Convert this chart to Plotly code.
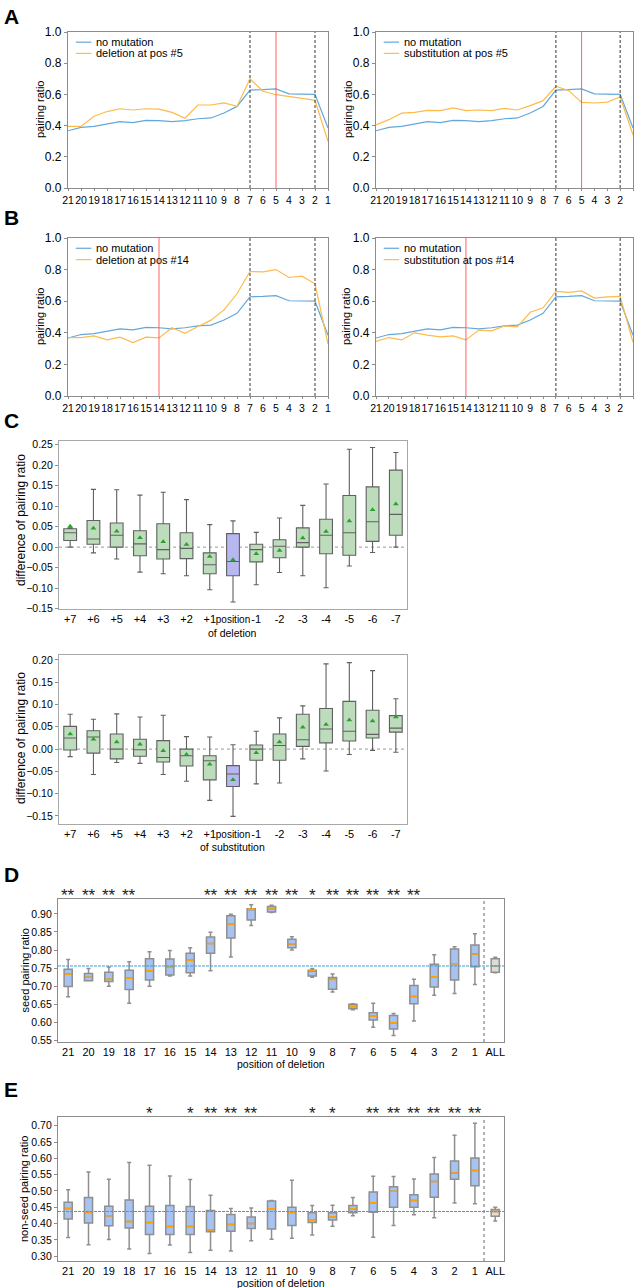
import plotly.graph_objects as go

W, H = 636, 1288
FONT = "Arial, Liberation Sans, sans-serif"

# ---------------- data ----------------
positions = ["21", "20", "19", "18", "17", "16", "15", "14", "13", "12", "11",
             "10", "9", "8", "7", "6", "5", "4", "3", "2", "1"]
seed_bounds = [7, 2]
no_mutation = [0.367, 0.389, 0.395, 0.410, 0.425, 0.419, 0.434, 0.432, 0.425, 0.432, 0.444,
               0.449, 0.481, 0.523, 0.628, 0.630, 0.635, 0.603, 0.600, 0.600, 0.385]
deletion_pos5 = [0.395, 0.395, 0.460, 0.490, 0.508, 0.500, 0.508, 0.506, 0.485, 0.447, 0.532,
                 0.532, 0.545, 0.523, 0.700, 0.620, 0.598, 0.588, 0.575, 0.562, 0.300]
substitution_pos5 = [0.405, 0.438, 0.480, 0.485, 0.498, 0.496, 0.513, 0.496, 0.500, 0.496, 0.510,
                     0.500, 0.528, 0.560, 0.652, 0.624, 0.549, 0.545, 0.551, 0.583, 0.340]
deletion_pos14 = [0.370, 0.370, 0.380, 0.355, 0.372, 0.338, 0.372, 0.368, 0.432, 0.397, 0.440,
                  0.480, 0.545, 0.647, 0.788, 0.786, 0.800, 0.750, 0.758, 0.710, 0.330]
substitution_pos14 = [0.346, 0.370, 0.355, 0.400, 0.385, 0.374, 0.380, 0.355, 0.417, 0.412, 0.444,
                      0.438, 0.530, 0.558, 0.662, 0.656, 0.665, 0.620, 0.628, 0.630, 0.340]

c_categories = ["+7", "+6", "+5", "+4", "+3", "+2", "+1", "position",
                "-1", "-2", "-3", "-4", "-5", "-6", "-7"]
cdel_low = [0.0, -0.014, -0.029, -0.061, -0.065, -0.070, -0.104, -0.134, -0.092, -0.062, -0.070, -0.099, -0.046, -0.013, 0.0]
cdel_q1 = [0.016, 0.007, 0.0, -0.021, -0.029, -0.028, -0.065, -0.070, -0.036, -0.026, 0.0, -0.016, -0.020, 0.014, 0.029]
cdel_med = [0.035, 0.020, 0.029, 0.008, -0.006, -0.003, -0.043, -0.035, -0.006, 0.002, 0.011, 0.029, 0.035, 0.062, 0.080]
cdel_q3 = [0.045, 0.065, 0.059, 0.040, 0.057, 0.035, -0.014, 0.033, 0.007, 0.018, 0.047, 0.068, 0.126, 0.147, 0.188]
cdel_high = [0.047, 0.141, 0.140, 0.127, 0.134, 0.116, 0.055, 0.064, 0.036, 0.071, 0.102, 0.154, 0.239, 0.243, 0.231]
cdel_mean = [0.051, 0.046, 0.039, 0.023, 0.013, 0.0065, -0.023, -0.031, -0.016, -0.008, 0.022, 0.038, 0.064, 0.091, 0.105]

csub_low = [-0.017, -0.057, -0.030, -0.032, -0.057, -0.072, -0.115, -0.151, -0.078, -0.076, -0.022, -0.049, -0.012, -0.003, -0.007]
csub_q1 = [-0.002, -0.009, -0.022, -0.016, -0.029, -0.038, -0.069, -0.084, -0.025, -0.025, 0.006, 0.014, 0.018, 0.025, 0.038]
csub_med = [0.025, 0.027, 0.0, -0.0015, -0.019, -0.015, -0.026, -0.056, 0.0, 0.008, 0.021, 0.045, 0.040, 0.033, 0.047]
csub_q3 = [0.051, 0.041, 0.034, 0.022, 0.019, 0.0, -0.015, -0.037, 0.009, 0.034, 0.078, 0.091, 0.107, 0.087, 0.075]
csub_high = [0.078, 0.067, 0.079, 0.072, 0.076, 0.028, 0.027, 0.0097, 0.040, 0.070, 0.097, 0.191, 0.194, 0.176, 0.113]
csub_mean = [0.034, 0.022, 0.016, 0.011, -0.004, -0.012, -0.034, -0.069, -0.008, 0.016, 0.049, 0.055, 0.065, 0.063, 0.072]

de_categories = positions + ["ALL"]
d_low = [0.671, 0.715, 0.700, 0.653, 0.700, 0.728, 0.728, 0.743, 0.781, 0.868, 0.904, 0.800, 0.725, 0.684, 0.635, 0.587, 0.564, 0.604, 0.675, 0.680, 0.705, 0.737]
d_q1 = [0.699, 0.715, 0.713, 0.691, 0.717, 0.731, 0.737, 0.791, 0.833, 0.883, 0.905, 0.806, 0.728, 0.692, 0.638, 0.607, 0.582, 0.652, 0.698, 0.717, 0.754, 0.739]
d_med = [0.733, 0.725, 0.719, 0.722, 0.743, 0.754, 0.772, 0.818, 0.871, 0.913, 0.913, 0.817, 0.743, 0.719, 0.644, 0.617, 0.599, 0.672, 0.726, 0.762, 0.789, 0.756]
d_q3 = [0.747, 0.735, 0.739, 0.744, 0.776, 0.775, 0.791, 0.836, 0.895, 0.914, 0.920, 0.830, 0.744, 0.724, 0.650, 0.627, 0.619, 0.702, 0.761, 0.803, 0.814, 0.776]
d_high = [0.774, 0.749, 0.753, 0.768, 0.795, 0.799, 0.806, 0.849, 0.899, 0.925, 0.924, 0.837, 0.749, 0.734, 0.652, 0.653, 0.625, 0.719, 0.787, 0.809, 0.845, 0.780]
d_stars = ["**", "**", "**", "**", "", "", "", "**", "**", "**", "**", "**", "*", "**", "**", "**", "**", "**", "", "", "", ""]

e_low = [0.357, 0.335, 0.351, 0.322, 0.308, 0.334, 0.311, 0.318, 0.316, 0.347, 0.352, 0.355, 0.365, 0.392, 0.424, 0.358, 0.394, 0.427, 0.418, 0.463, 0.461, 0.408]
e_q1 = [0.414, 0.402, 0.393, 0.386, 0.366, 0.366, 0.366, 0.375, 0.376, 0.385, 0.383, 0.394, 0.403, 0.411, 0.433, 0.435, 0.450, 0.450, 0.481, 0.536, 0.516, 0.422]
e_med = [0.446, 0.434, 0.424, 0.406, 0.403, 0.391, 0.391, 0.380, 0.397, 0.400, 0.445, 0.434, 0.410, 0.421, 0.445, 0.464, 0.499, 0.471, 0.529, 0.555, 0.563, 0.437]
e_q3 = [0.465, 0.480, 0.453, 0.472, 0.453, 0.455, 0.452, 0.440, 0.428, 0.420, 0.469, 0.450, 0.433, 0.433, 0.455, 0.497, 0.513, 0.488, 0.552, 0.592, 0.601, 0.443]
e_high = [0.504, 0.558, 0.536, 0.587, 0.579, 0.546, 0.535, 0.487, 0.446, 0.448, 0.471, 0.533, 0.455, 0.456, 0.480, 0.545, 0.544, 0.537, 0.603, 0.671, 0.708, 0.450]
e_stars = ["", "", "", "", "*", "", "*", "**", "**", "**", "", "", "*", "*", "", "**", "**", "**", "**", "**", "**", ""]

# ---------------- styles ----------------
BLUE = "#62a8dc"
ORANGE = "#fdbb4a"
GREEN_FILL = "#bcdcbc"
LAV_FILL = "#b7b7f2"
BOX_BLUE = "#a7c3f3"
ALL_FILL = "#dcdcdc"
MED_ORANGE = "#ffa100"
FRAME = "#8c8c8c"
REF_BLUE = "#3f9bd6"


def fx(p):
    return p / W


def fy(p):
    return 1 - p / H


fig = go.Figure()
layout = dict(width=W, height=H, margin=dict(l=0, r=0, t=0, b=0), autosize=False,
              template="none", paper_bgcolor="white", plot_bgcolor="white",
              showlegend=False, boxmode="overlay",
              font=dict(family=FONT, size=12, color="black"))

shapes = []
annotations = []


def axis_base(**kw):
    d = dict(showgrid=False, zeroline=False, showline=True, mirror=True, linecolor=FRAME,
             linewidth=1.3, ticks="outside", ticklen=3, tickcolor=FRAME, automargin=False,
             tickfont=dict(family=FONT, size=12, color="black"))
    d.update(kw)
    return d


def text_at(txt, x, y, size, angle=0):
    annotations.append(dict(text=txt, xref="paper", yref="paper", x=fx(x), y=fy(y),
                            xanchor="center", yanchor="middle", showarrow=False, textangle=angle,
                            font=dict(family=FONT, size=size, color="black")))


# ---------------- panels A & B ----------------
line_panels = [
    (1, (68, 328), (32, 188), deletion_pos5, "deletion at pos #5", 5, 40),
    (2, (376, 633), (32, 188), substitution_pos5, "substitution at pos #5", 5, 348),
    (3, (68, 328), (238, 396), deletion_pos14, "deletion at pos #14", 14, 40),
    (4, (376, 633), (238, 396), substitution_pos14, "substitution at pos #14", 14, 346),
]
xs = list(range(len(positions)))
for n, (x0, x1), (y0, y1), mut, label, mpos, tx in line_panels:
    xa = "x" if n == 1 else f"x{n}"
    ya = "y" if n == 1 else f"y{n}"
    xk = "xaxis" if n == 1 else f"xaxis{n}"
    yk = "yaxis" if n == 1 else f"yaxis{n}"
    layout[xk] = axis_base(domain=[fx(x0), fx(x1)], anchor=ya, range=[0, len(positions) - 1],
                           tickmode="array", tickvals=xs, ticktext=positions, tickangle=0,
                           ticklen=2, tickfont=dict(family=FONT, size=10.5, color="black"))
    layout[yk] = axis_base(domain=[fy(y1), fy(y0)], anchor=xa, range=[0, 1.0], dtick=0.2,
                           tickformat=".1f")
    text_at("pairing ratio", tx, (y0 + y1) / 2, 11, angle=-90)
    fig.add_trace(go.Scatter(x=xs, y=no_mutation, mode="lines", name="no mutation",
                             line=dict(color=BLUE, width=1.2), xaxis=xa, yaxis=ya))
    fig.add_trace(go.Scatter(x=xs, y=mut, mode="lines", name=label,
                             line=dict(color=ORANGE, width=1.2), xaxis=xa, yaxis=ya))
    for sb in seed_bounds:
        shapes.append(dict(type="line", xref=xa, yref=f"{ya} domain",
                           x0=positions.index(str(sb)), x1=positions.index(str(sb)), y0=0, y1=1,
                           line=dict(color="#222222", width=0.9, dash="3px,2px")))
    shapes.append(dict(type="line", xref=xa, yref=f"{ya} domain",
                       x0=positions.index(str(mpos)), x1=positions.index(str(mpos)), y0=0, y1=1,
                       line=dict(color="#ff5050", width=0.9)))
    # legend
    for k, (txt, col) in enumerate([("no mutation", BLUE), (label, ORANGE)]):
        yy = 0.935 - k * 0.072
        shapes.append(dict(type="line", xref=f"{xa} domain", yref=f"{ya} domain",
                           x0=0.03, x1=0.09, y0=yy, y1=yy, line=dict(color=col, width=1.2)))
        annotations.append(dict(text=txt, xref=f"{xa} domain", yref=f"{ya} domain",
                                x=0.1, y=yy, xanchor="left", yanchor="middle", showarrow=False,
                                font=dict(family=FONT, size=11, color="black")))

# ---------------- panel C ----------------
c_x = list(range(len(c_categories)))
pos_i = c_categories.index("position")
c_ticktext = [c if c != "position" else "<span style='font-size:10px'>position</span>"
              for c in c_categories]
c_panels = [
    (5, (59, 407), (441, 609), [-0.151, 0.259], "of deletion", 633, 520,
     cdel_low, cdel_q1, cdel_med, cdel_q3, cdel_high, cdel_mean),
    (6, (59, 407), (655, 824), [-0.168, 0.211], "of substitution", 847, 738,
     csub_low, csub_q1, csub_med, csub_q3, csub_high, csub_mean),
]
for n, (x0, x1), (y0, y1), yr, xtitle, xty, yty, lo, q1, md, q3, hi, mn in c_panels:
    xa, ya = f"x{n}", f"y{n}"
    layout[f"xaxis{n}"] = axis_base(domain=[fx(x0), fx(x1)], anchor=ya, range=[-0.48, 14.48],
                                    tickmode="array", tickvals=c_x, ticktext=c_ticktext,
                                    tickangle=0, linecolor="#a8a8a8", linewidth=1.2, ticks="",
                                    tickfont=dict(family=FONT, size=11, color="black"))
    layout[f"yaxis{n}"] = axis_base(domain=[fy(y1), fy(y0)], anchor=xa, range=yr, dtick=0.05,
                                    tickformat=".2f", linecolor="#a8a8a8", linewidth=1.2,
                                    tickfont=dict(family=FONT, size=10.5, color="black"))
    text_at(xtitle, (x0 + x1) / 2, xty, 10.5)
    text_at("difference of pairing ratio", 21, yty, 12, angle=-90)
    shapes.append(dict(type="line", xref=f"{xa} domain", yref=ya, x0=0, x1=1, y0=0, y1=0,
                       line=dict(color="#999999", width=1, dash="dot"), layer="below"))
    for idxs, fill in [([i for i in c_x if i != pos_i], GREEN_FILL), ([pos_i], LAV_FILL)]:
        fig.add_trace(go.Box(x=idxs, q1=[q1[i] for i in idxs], median=[md[i] for i in idxs],
                             q3=[q3[i] for i in idxs], lowerfence=[lo[i] for i in idxs],
                             upperfence=[hi[i] for i in idxs], fillcolor=fill,
                             line=dict(color="#606060", width=1.1), whiskerwidth=0.4,
                             width=0.55, boxpoints=False, xaxis=xa, yaxis=ya))
    fig.add_trace(go.Scatter(x=c_x, y=mn, mode="markers", xaxis=xa, yaxis=ya,
                             marker=dict(symbol="triangle-up", size=5, color="#2ca02c")))

# ---------------- panels D & E ----------------
de_x = list(range(len(de_categories)))
de_panels = [
    (7, (58, 504), (899, 1042), [0.546, 0.941], "seed pairing ratio", 1064, 24,
     d_low, d_q1, d_med, d_q3, d_high, d_stars),
    (8, (58, 504), (1117, 1261), [0.285, 0.727], "non-seed pairing ratio", 1283, 24,
     e_low, e_q1, e_med, e_q3, e_high, e_stars),
]
for n, (x0, x1), (y0, y1), yr, ytitle, xty, ytx, lo, q1, md, q3, hi, stars in de_panels:
    xa, ya = f"x{n}", f"y{n}"
    layout[f"xaxis{n}"] = axis_base(domain=[fx(x0), fx(x1)], anchor=ya, range=[-0.5, 21.43],
                                    tickmode="array", tickvals=de_x, ticktext=de_categories,
                                    tickangle=0, ticks="",
                                    tickfont=dict(family=FONT, size=11, color="black"))
    layout[f"yaxis{n}"] = axis_base(domain=[fy(y1), fy(y0)], anchor=xa, range=yr, dtick=0.05,
                                    tickformat=".2f",
                                    tickfont=dict(family=FONT, size=10.5, color="black"))
    text_at("position of deletion", (x0 + x1) / 2, xty, 10.5)
    text_at(ytitle, ytx, (y0 + y1) / 2, 11, angle=-90)
    ref = md[-1]
    sep = len(de_categories) - 1.55
    shapes.append(dict(type="line", xref=xa, yref=f"{ya} domain", x0=sep, x1=sep, y0=0, y1=1,
                       line=dict(color="#9a9a9a", width=1.5, dash="dot")))
    for idxs, fill in [(de_x[:-1], BOX_BLUE), (de_x[-1:], ALL_FILL)]:
        fig.add_trace(go.Box(x=idxs, q1=[q1[i] for i in idxs], median=[md[i] for i in idxs],
                             q3=[q3[i] for i in idxs], lowerfence=[lo[i] for i in idxs],
                             upperfence=[hi[i] for i in idxs], fillcolor=fill,
                             line=dict(color="#8f8f8f", width=1.5), whiskerwidth=0.5,
                             width=0.4, boxpoints=False, xaxis=xa, yaxis=ya))
    # orange median bars
    fig.add_trace(go.Box(x=de_x, q1=md, median=md, q3=md, lowerfence=md, upperfence=md,
                         fillcolor="rgba(0,0,0,0)", line=dict(color=MED_ORANGE, width=1.6),
                         whiskerwidth=0, width=0.34, boxpoints=False, xaxis=xa, yaxis=ya))
    # reference line at the ALL median
    shapes.append(dict(type="line", xref=f"{xa} domain", yref=ya, x0=0, x1=1, y0=ref, y1=ref,
                       line=dict(color=REF_BLUE, width=1, dash="3px,1px"), layer="above"))
    for i, s in enumerate(stars):
        if s:
            annotations.append(dict(text=s, xref=xa, yref=f"{ya} domain", x=i, y=1.024,
                                    xanchor="center", yanchor="middle", showarrow=False,
                                    font=dict(family=FONT, size=17, color="#222222")))

# ---------------- panel letters ----------------
for letter, top in [("A", 3), ("B", 204), ("C", 407), ("D", 861), ("E", 1076)]:
    annotations.append(dict(text=f"<b>{letter}</b>", xref="paper", yref="paper",
                            x=fx(2), y=fy(top), xanchor="left", yanchor="top", showarrow=False,
                            font=dict(family=FONT, size=21, color="black")))

layout["shapes"] = shapes
layout["annotations"] = annotations
fig.update_layout(**layout)
fig.write_html("out.html")
